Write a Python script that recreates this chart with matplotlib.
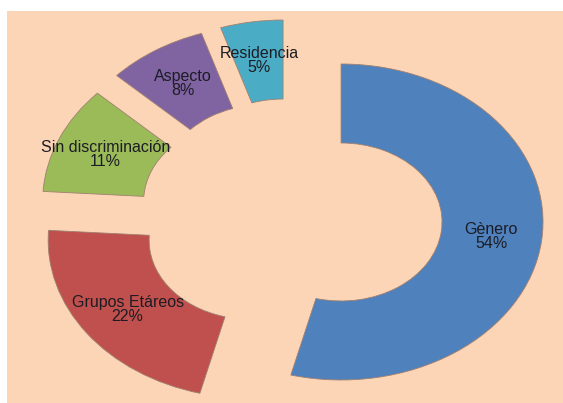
import matplotlib
matplotlib.use("Agg")
import matplotlib.pyplot as plt

# Categories and their share (%)
categorias = ["Gènero", "Grupos Etáreos", "Sin discriminación", "Aspecto", "Residencia"]
porcentajes = [54, 22, 11, 8, 5]
colores = ["#4F81BD", "#C0504D", "#9BBB59", "#8064A2", "#4BACC6"]
separacion = [0.25, 0.25, 0.25, 0.25, 0.25]

plt.rcParams['font.family'] = ['Liberation Sans', 'DejaVu Sans']

fig = plt.figure(figsize=(5.63, 4.03), dpi=100)
fig.patch.set_facecolor("white")
ax = fig.add_axes([7 / 563, 0, 556 / 563, 392 / 403])

wedges, texts, autotexts = ax.pie(
    porcentajes,
    explode=separacion,
    colors=colores,
    startangle=90,
    counterclock=False,
    autopct="%d%%",
    pctdistance=0.75,
    wedgeprops=dict(width=0.5, linewidth=0.6, edgecolor="#a08070"),
)

# label = category name + its percent
for t, nombre, val in zip(autotexts, categorias, porcentajes):
    t.set_text(f"{nombre}\n{val}%")
    t.set_fontsize(11.5)
    t.set_color("#1c1c24")
    t.set_linespacing(0.92)

# ring is wider than tall
ax.set_aspect("auto")
ax.set_xlim(-1.406, 1.347)
ax.set_ylim(-1.177, 1.304)
ax.set_frame_on(True)
ax.set_facecolor("#FBD5B5")
for s in ax.spines.values():
    s.set_visible(False)
ax.set_xticks([])
ax.set_yticks([])

fig.savefig("out.png", dpi=100, facecolor=fig.get_facecolor())
